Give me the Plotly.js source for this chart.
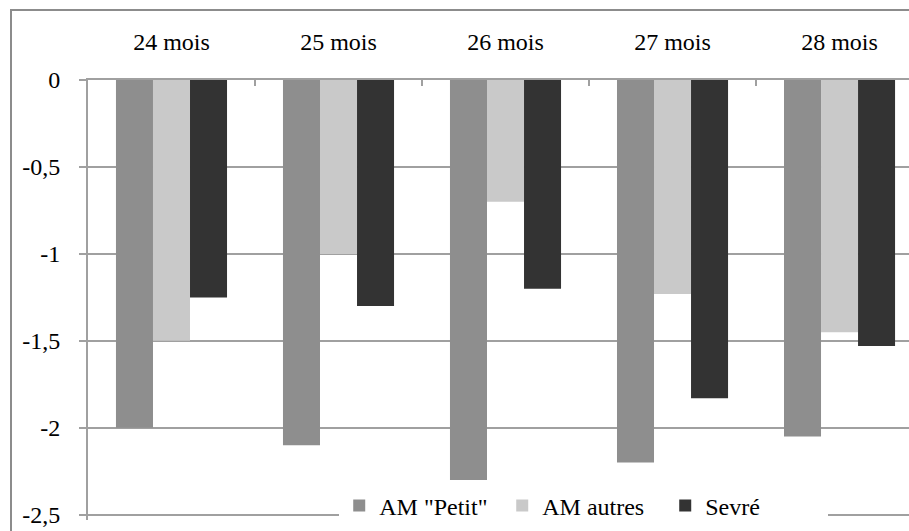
<!DOCTYPE html>
<html><head><meta charset="utf-8">
<script src="https://cdn.plot.ly/plotly-3.0.1.min.js"></script>
<style>
html,body{margin:0;padding:0;background:#fff;overflow:hidden}
#frame{position:absolute;left:10px;top:9px;width:1200px;height:1200px;border:2px solid #8c8c8c;box-sizing:border-box}
#chart{position:absolute;left:0;top:0;width:909px;height:531px}
</style>
</head><body><div id="frame"></div><div id="chart"></div>
<script>
const categories = ["24 mois","25 mois","26 mois","27 mois","28 mois"];
const seriesNames = ['AM "Petit"', 'AM autres', 'Sevré'];
const amPetit  = [-2.00, -2.10, -2.30, -2.20, -2.05];
const amAutres = [-1.50, -1.00, -0.70, -1.23, -1.45];
const sevre    = [-1.25, -1.30, -1.20, -1.83, -1.53];
const yTickVals = [0, -0.5, -1, -1.5, -2, -2.5];
const yTickText = ["0", "-0,5", "-1", "-1,5", "-2", "-2,5"];
const colors = ["#8e8e8e", "#c9c9c9", "#333333"];

const values = [amPetit, amAutres, sevre];
const data = values.map((v, i) => ({
  type: 'bar', x: categories, y: v, name: seriesNames[i],
  marker: {color: colors[i], line: {width: 0}}
}));

const mkFont = () => ({family: 'Liberation Serif', size: 24, color: '#000000'});
const layout = {
  width: 909, height: 531,
  margin: {l: 88, r: 0, t: 80, b: 11, pad: 0},
  paper_bgcolor: 'rgba(0,0,0,0)', plot_bgcolor: 'rgba(0,0,0,0)',
  font: mkFont(),
  barmode: 'group', bargap: 0.335, bargroupgap: 0,
  showlegend: true,
  legend: {orientation: 'h', x: 0.306, xanchor: 'left', y: 0.032, yanchor: 'middle',
           bgcolor: '#ffffff', borderwidth: 0, font: mkFont(), entrywidth: 118, entrywidthmode: 'pixels',
           traceorder: 'normal'},
  xaxis: {side: 'top', type: 'category', range: [-0.5, 4.416],
          showline: true, linecolor: '#a0a0a0', linewidth: 2,
          ticks: 'inside', tickson: 'boundaries', ticklen: 6, tickcolor: '#a0a0a0', tickwidth: 2,
          tickfont: mkFont(),
          ticklabelstandoff: 18, showgrid: false, zeroline: false, fixedrange: true},
  yaxis: {range: [-2.53, 0], tickvals: yTickVals, ticktext: yTickText,
          showline: true, linecolor: '#a0a0a0', linewidth: 2,
          ticks: 'outside', ticklen: 7, tickcolor: '#a0a0a0', tickwidth: 2,
          tickfont: mkFont(),
          showgrid: true, gridcolor: '#a0a0a0', gridwidth: 2, zeroline: false,
          ticklabelstandoff: 14, fixedrange: true}
};
Plotly.newPlot('chart', data, layout, {displayModeBar: false});
</script></body></html>
